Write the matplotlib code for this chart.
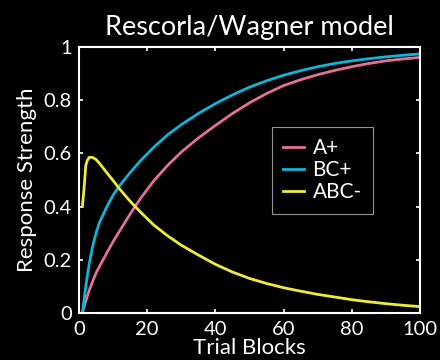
import matplotlib
matplotlib.use('Agg')
import matplotlib.pyplot as plt

# ─── Data ───────────────────────────────────────────────────────────────────
trials = [1, 1.5, 2, 2.5, 3, 4, 5, 6, 8, 10, 12, 15, 18, 22, 26, 30, 35, 40,
          45, 50, 55, 60, 65, 70, 75, 80, 85, 90, 95, 100]
a_plus = [0, 0.022, 0.045, 0.065, 0.085, 0.118, 0.15, 0.175, 0.222, 0.268,
          0.31, 0.372, 0.43, 0.498, 0.555, 0.605, 0.658, 0.705, 0.75, 0.79,
          0.825, 0.855, 0.877, 0.896, 0.912, 0.926, 0.938, 0.948, 0.955, 0.961]
bc_plus = [0, 0.05, 0.10, 0.145, 0.185, 0.25, 0.30, 0.34, 0.395, 0.443,
           0.48, 0.528, 0.572, 0.624, 0.67, 0.708, 0.75, 0.787, 0.82, 0.849,
           0.873, 0.894, 0.911, 0.926, 0.938, 0.948, 0.956, 0.963, 0.969, 0.974]
abc_minus = [0.40, 0.47, 0.555, 0.575, 0.585, 0.585, 0.577, 0.563, 0.53, 0.498,
             0.465, 0.42, 0.38, 0.33, 0.29, 0.255, 0.218, 0.183, 0.154, 0.13,
             0.111, 0.095, 0.082, 0.07, 0.06, 0.05, 0.042, 0.035, 0.029, 0.024]

series_names = ['A+', 'BC+', 'ABC-']
x_ticks = [0, 20, 40, 60, 80, 100]
y_ticks = [0, 0.2, 0.4, 0.6, 0.8, 1]
y_tick_labels = ['0', '0.2', '0.4', '0.6', '0.8', '1']

PINK = '#e46f98'
CYAN = '#0fb4d8'
YELLOW = '#eeec38'

plt.rcParams['font.family'] = ['Lato', 'DejaVu Sans']

fig = plt.figure(figsize=(4.4, 3.6), dpi=100, facecolor='black')
ax = fig.add_axes([0.1795, 0.1306, 0.775, 0.7388], facecolor='black')

ax.plot(trials, a_plus, color=PINK, lw=2, label=series_names[0])
ax.plot(trials, bc_plus, color=CYAN, lw=2, label=series_names[1])
ax.plot(trials, abc_minus, color=YELLOW, lw=2, label=series_names[2])

ax.set_xlim(0, 100)
ax.set_ylim(0, 1)
ax.set_xticks(x_ticks)
ax.set_yticks(y_ticks)
ax.set_yticklabels(y_tick_labels)

for s in ax.spines.values():
    s.set_color('white')
    s.set_linewidth(1.5)
ax.tick_params(direction='in', length=3, width=1.2, colors='white',
               labelsize=14.5, top=True, right=True)
ax.tick_params(axis='x', pad=6)
ax.tick_params(axis='y', pad=5)

ax.set_xlabel('Trial Blocks', color='white', fontsize=16, labelpad=0)
ax.set_ylabel('Response Strength', color='white', fontsize=16, labelpad=5)
ax.set_title('Rescorla/Wagner model', color='white', fontsize=19.5, pad=9)

leg = ax.legend(loc='upper left', bbox_to_anchor=(0.566, 0.70), fontsize=15,
                frameon=True, fancybox=False, handlelength=1.0,
                handletextpad=0.4, labelspacing=0.1, borderpad=0.55,
                borderaxespad=0)
leg.get_frame().set_facecolor('black')
leg.get_frame().set_edgecolor('#bbbbbb')
leg.get_frame().set_linewidth(0.8)
for t in leg.get_texts():
    t.set_color('white')

fig.savefig('out.png', dpi=100, facecolor='black')
